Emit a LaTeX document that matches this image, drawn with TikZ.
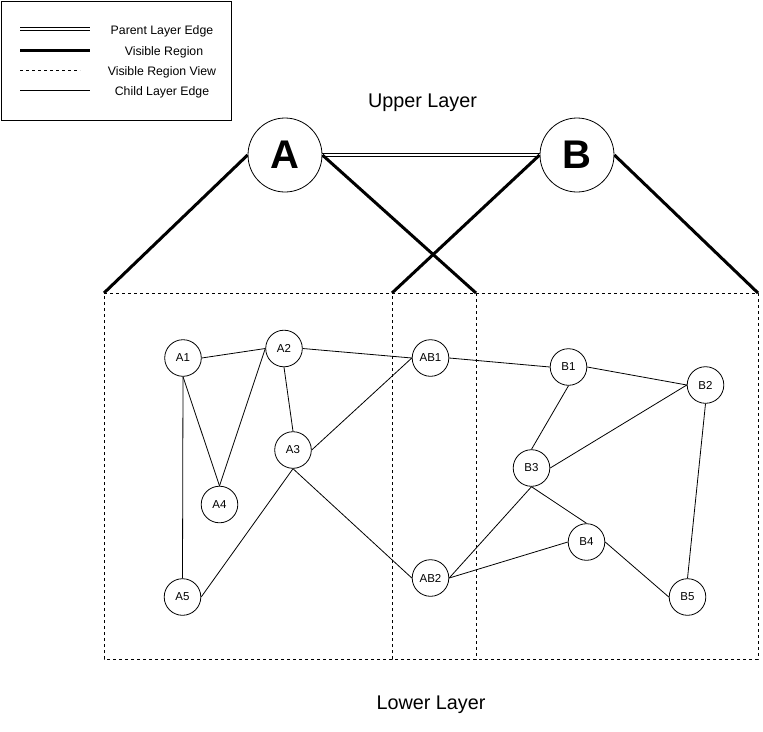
\documentclass[tikz,border=0pt]{standalone}
\usepackage{fontspec}
\setmainfont{Liberation Sans}
\begin{document}
\begin{tikzpicture}[x=1pt,y=-1pt,
  bignode/.style={circle,draw,line width=0.8pt,minimum size=74pt,inner sep=0pt,font=\fontsize{40}{44}\selectfont\bfseries},
  smallnode/.style={circle,draw,line width=0.8pt,minimum size=36.6pt,inner sep=0pt,font=\fontsize{11.5}{13}\selectfont},
  childedge/.style={line width=0.8pt},
  visedge/.style={line width=3pt},
  viewbox/.style={line width=0.9pt,dash pattern=on 3pt off 3pt},
  parentedge/.style={double,line width=0.9pt,double distance=2.6pt},
  legtext/.style={font=\fontsize{12.3}{14}\selectfont,inner sep=0pt},
  layertext/.style={font=\fontsize{19.8}{22}\selectfont,inner sep=0pt}]
\useasboundingbox (0,0) rectangle (763,731);
% legend
\node[draw,line width=0.8pt,minimum width=230pt,minimum height=119pt,inner sep=0pt] (legend) at (116,60.5) {};
\coordinate (l1a) at (20,29); \coordinate (l1b) at (90,29);
\coordinate (l2a) at (20,50.5); \coordinate (l2b) at (90,50.5);
\coordinate (l3a) at (20,70.5); \coordinate (l3b) at (80,70.5);
\coordinate (l4a) at (20,90); \coordinate (l4b) at (90,90);
\draw[parentedge] (l1a) -- (l1b);
\draw[visedge] (l2a) -- (l2b);
\draw[viewbox] (l3a) -- (l3b);
\draw[childedge] (l4a) -- (l4b);
\node[legtext] (t1) at (162,31) {Parent Layer Edge};
\node[legtext] (t2) at (164,52.5) {Visible Region};
\node[legtext] (t3) at (162,72.5) {Visible Region View};
\node[legtext] (t4) at (162,92) {Child Layer Edge};
% layer labels
\node[layertext] (upper) at (422.5,103) {Upper Layer};
\node[layertext] (lower) at (431,704.5) {Lower Layer};
% upper nodes
\node[bignode] (A) at (285,155) {A};
\node[bignode] (B) at (577,155) {B};
% view boxes
\coordinate (L1) at (104,293); \coordinate (L2) at (476,293);
\coordinate (L3) at (476,659); \coordinate (L4) at (104,659);
\coordinate (R1) at (392,293); \coordinate (R2) at (758,293);
\coordinate (R3) at (758,659); \coordinate (R4) at (392,659);
\draw[viewbox] (L1) -- (L2) -- (L3) -- (L4) -- cycle;
\draw[viewbox] (R1) -- (R2) -- (R3) -- (R4) -- cycle;
\draw[parentedge] (A.east) -- (B.west);
\draw[visedge] (A.west) -- (L1);
\draw[visedge] (A.east) -- (L2);
\draw[visedge] (B.west) -- (R1);
\draw[visedge] (B.east) -- (R2);
% lower nodes
\node[smallnode] (A1) at (183,358) {A1};
\node[smallnode] (A2) at (284,348.5) {A2};
\node[smallnode] (AB1) at (430.5,358) {AB1};
\node[smallnode] (A3) at (293,450) {A3};
\node[smallnode] (A4) at (219.5,504.5) {A4};
\node[smallnode] (A5) at (182.5,597) {A5};
\node[smallnode] (AB2) at (430.5,578) {AB2};
\node[smallnode] (B1) at (568.5,367) {B1};
\node[smallnode] (B2) at (705.5,385) {B2};
\node[smallnode] (B3) at (531.5,468) {B3};
\node[smallnode] (B4) at (586.5,542) {B4};
\node[smallnode] (B5) at (687.5,597) {B5};
% child edges
\draw[childedge] (A1.east) -- (A2.west);
\draw[childedge] (A1.south) -- (A5.north);
\draw[childedge] (A1.south) -- (A4.north);
\draw[childedge] (A2.west) -- (A4.north);
\draw[childedge] (A2.east) -- (AB1.west);
\draw[childedge] (A2.south) -- (A3.north);
\draw[childedge] (AB1.west) -- (A3.east);
\draw[childedge] (A3.south) -- (A5.east);
\draw[childedge] (A3.south) -- (AB2.west);
\draw[childedge] (AB1.east) -- (B1.west);
\draw[childedge] (B1.east) -- (B2.west);
\draw[childedge] (B1.south) -- (B3.north);
\draw[childedge] (B2.west) -- (B3.east);
\draw[childedge] (B2.south) -- (B5.north);
\draw[childedge] (B3.south) -- (B4.north);
\draw[childedge] (B3.south) -- (AB2.east);
\draw[childedge] (B4.west) -- (AB2.east);
\draw[childedge] (B4.east) -- (B5.west);
\end{tikzpicture}
\end{document}
